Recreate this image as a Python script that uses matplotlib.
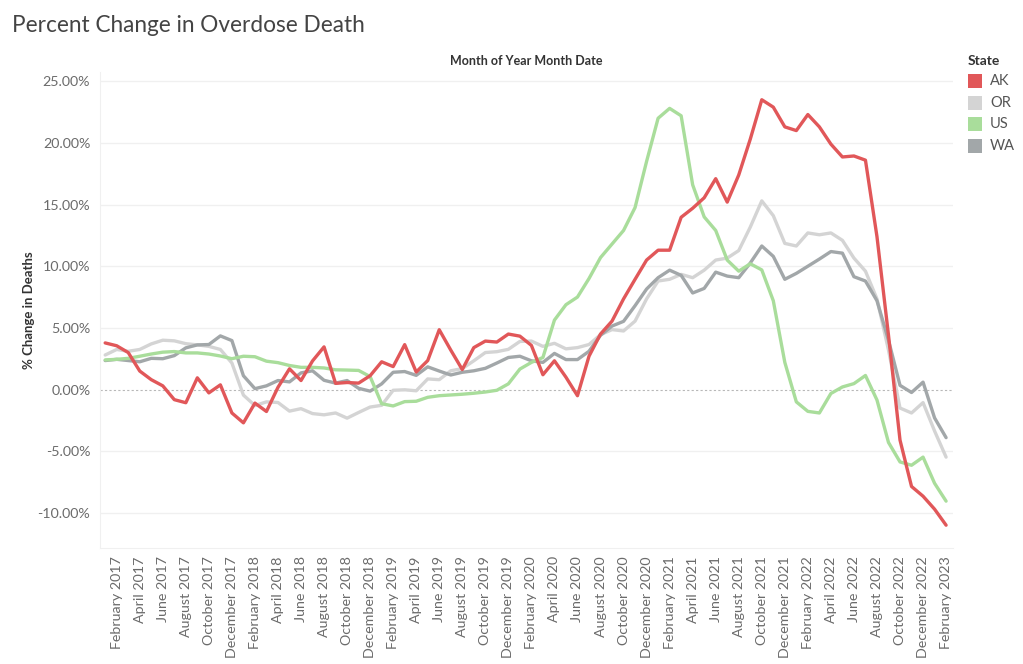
import matplotlib
matplotlib.use("Agg")
import matplotlib.pyplot as plt
import pandas as pd
from matplotlib.patches import Rectangle

# ---------------- data (percent change in deaths) ----------------
months = pd.date_range("2017-01-01", periods=74, freq="MS")

AK = [3.78, 3.55, 3.0, 1.5, 0.8, 0.3, -0.82, -1.07, 0.95, -0.27,
      0.38, -1.9, -2.7, -1.1, -1.78, 0.18, 1.68, 0.73, 2.32, 3.46,
      0.5, 0.57, 0.52, 1.12, 2.25, 1.86, 3.64, 1.42, 2.35, 4.85,
      3.2, 1.62, 3.4, 3.93, 3.85, 4.5, 4.33, 3.58, 1.2, 2.33,
      1.0, -0.5, 2.7, 4.5, 5.55, 7.35, 8.94, 10.5, 11.3, 11.3,
      13.97, 14.7, 15.55, 17.1, 15.2, 17.4, 20.3, 23.5, 22.9, 21.3,
      21.0, 22.3, 21.3, 19.9, 18.86, 18.94, 18.6, 12.4, 4.4, -4.1,
      -7.86, -8.65, -9.7, -11.0]

OR = [2.8, 3.25, 3.1, 3.25, 3.7, 4.0, 3.95, 3.72, 3.62, 3.5,
      3.25, 2.15, -0.45, -1.3, -1.0, -1.05, -1.75, -1.55, -1.95, -2.05,
      -1.9, -2.32, -1.86, -1.42, -1.28, -0.06, -0.02, -0.1, 0.86, 0.8,
      1.52, 1.7, 2.33, 3.0, 3.07, 3.26, 3.9, 3.93, 3.5, 3.75,
      3.3, 3.4, 3.65, 4.45, 4.86, 4.75, 5.55, 7.35, 8.8, 8.94,
      9.34, 9.07, 9.68, 10.5, 10.66, 11.27, 13.17, 15.3, 14.1, 11.85,
      11.64, 12.7, 12.55, 12.7, 12.1, 10.66, 9.6, 7.35, 3.2, -1.5,
      -1.9, -1.06, -3.36, -5.48]

US = [2.4, 2.45, 2.53, 2.7, 2.88, 3.03, 3.08, 2.97, 2.97, 2.88,
      2.72, 2.5, 2.7, 2.66, 2.3, 2.18, 1.95, 1.8, 1.8, 1.75,
      1.6, 1.58, 1.55, 1.05, -1.15, -1.33, -0.98, -0.95, -0.63, -0.5,
      -0.44, -0.38, -0.3, -0.2, -0.06, 0.46, 1.66, 2.2, 2.6, 5.63,
      6.88, 7.5, 9.0, 10.7, 11.8, 12.9, 14.76, 18.5, 22.0, 22.8,
      22.2, 16.6, 14.0, 12.9, 10.5, 9.6, 10.2, 9.7, 7.2, 2.2,
      -1.0, -1.77, -1.9, -0.32, 0.21, 0.48, 1.14, -0.85, -4.29, -5.87,
      -6.14, -5.48, -7.6, -9.05]

WA = [2.35, 2.45, 2.35, 2.25, 2.53, 2.5, 2.75, 3.38, 3.62, 3.65,
      4.35, 3.97, 1.12, 0.07, 0.3, 0.73, 0.62, 1.35, 1.52, 0.75,
      0.52, 0.73, 0.1, -0.13, 0.46, 1.4, 1.46, 1.15, 1.84, 1.5,
      1.18, 1.4, 1.52, 1.72, 2.15, 2.6, 2.7, 2.33, 2.2, 2.93,
      2.43, 2.43, 3.1, 4.4, 5.15, 5.53, 6.8, 8.15, 9.07, 9.68,
      9.26, 7.83, 8.2, 9.52, 9.2, 9.07, 10.26, 11.64, 10.8, 8.94,
      9.42, 10.0, 10.58, 11.19, 11.06, 9.15, 8.8, 7.2, 4.0, 0.34,
      -0.24, 0.6, -2.3, -3.9]

states = ["AK", "OR", "US", "WA"]
series = {"AK": AK, "OR": OR, "US": US, "WA": WA}
colors = {"AK": "#e15759", "OR": "#d4d4d4", "US": "#a9dd9b", "WA": "#a2a7a9"}
zorders = {"AK": 6, "OR": 3, "US": 5, "WA": 4}

y_ticks = [-10, -5, 0, 5, 10, 15, 20, 25]

# ---------------- figure ----------------
FONT = ["Lato", "DejaVu Sans"]
plt.rcParams["font.family"] = FONT

W, H = 1023, 664
fig = plt.figure(figsize=(W / 100, H / 100), dpi=100)
L, R, T, B = 100, 953, 72, 548
ax = fig.add_axes([L / W, 1 - B / H, (R - L) / W, (B - T) / H])

x = list(range(len(months)))
for s in states:
    ax.plot(x, series[s], color=colors[s], lw=2.4, zorder=zorders[s],
            solid_joinstyle="round", solid_capstyle="round")

ax.set_xlim(-0.45, len(months) - 1 + 0.6)
ax.set_ylim(-12.85, 25.75)

# grid
for v in y_ticks:
    if v == 0:
        ax.axhline(0, color="#b8b8b8", lw=0.8, ls=(0, (2, 2)), zorder=1)
    else:
        ax.axhline(v, color="#f0f0f0", lw=1.0, zorder=0)

ax.set_yticks(y_ticks)
ax.set_yticklabels([f"{v:.2f}%" for v in y_ticks])
tick_idx = list(range(1, len(months), 2))
ax.set_xticks(tick_idx)
ax.set_xticklabels([months[i].strftime("%B %Y") for i in tick_idx], rotation=90)
ax.tick_params(axis="both", length=0, colors="#6b6b6b", labelsize=10.3)
ax.tick_params(axis="y", pad=7)
ax.tick_params(axis="x", pad=6)

for sp in ["top", "right"]:
    ax.spines[sp].set_visible(False)
ax.spines["left"].set_color("#f0f0f0")
ax.spines["bottom"].set_color("#f0f0f0")

ax.set_ylabel("% Change in Deaths", fontsize=9.5, color="#333333",
              fontweight="bold")
ax.yaxis.set_label_coords((35 - L) / (R - L), 0.5)

# title and header
fig.text(12 / W, 1 - 25 / H, "Percent Change in Overdose Death", fontsize=16.3,
         color="#444444", ha="left", va="center")
fig.text((L + R) / 2 / W, 1 - 61 / H, "Month of Year Month Date", fontsize=9,
         color="#333333", fontweight="bold", ha="center", va="center")

# legend
fig.text(968 / W, 1 - 61 / H, "State", fontsize=10, color="#333333",
         fontweight="bold", ha="left", va="center")
for k, s in enumerate(states):
    yc = 81 + k * 21.7
    fig.patches.append(Rectangle((968 / W, 1 - (yc + 7) / H), 14 / W, 14 / H,
                                 transform=fig.transFigure, facecolor=colors[s],
                                 edgecolor="none"))
    fig.text(990 / W, 1 - yc / H, s, fontsize=10.5, color="#555555",
             ha="left", va="center")

fig.savefig("out.png", dpi=100)
